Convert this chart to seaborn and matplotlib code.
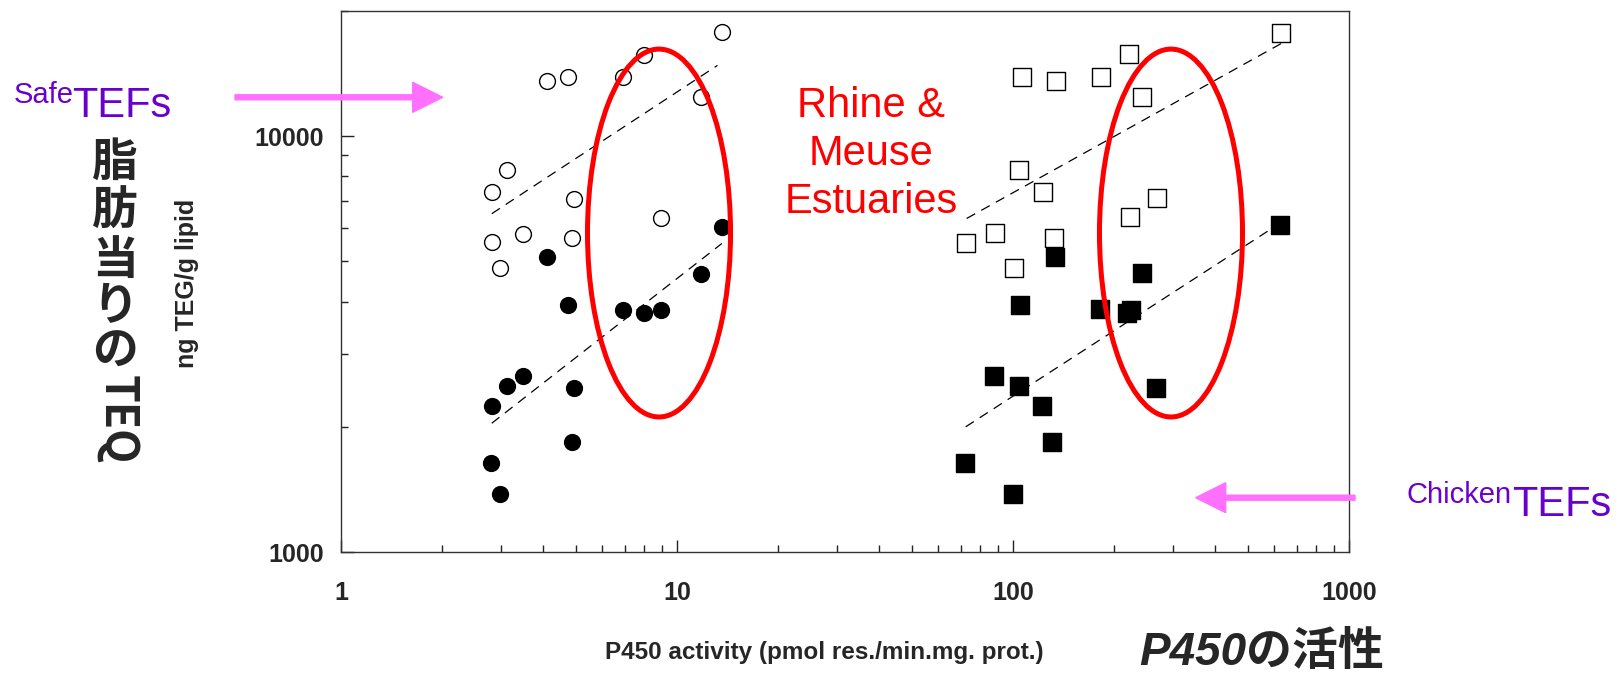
import numpy as np
import pandas as pd
import matplotlib
matplotlib.use("Agg")
import matplotlib.pyplot as plt
import seaborn as sns
from matplotlib.patches import Ellipse, FancyArrow
from matplotlib.ticker import FixedLocator, FixedFormatter, NullFormatter
from matplotlib import font_manager

# ---------------- data ----------------
circ_open_x = [13.6, 8.0, 6.92, 4.74, 4.09, 11.8, 3.11, 2.81, 4.93, 8.94, 2.81, 3.48, 4.87, 2.97]
circ_open_y = [17800, 15700, 13900, 13900, 13600, 12400, 8290, 7360, 7070, 6350, 5570, 5830, 5690, 4810]
circ_fill_x = [13.6, 11.8, 4.09, 4.74, 6.92, 7.99, 8.94, 3.48, 3.11, 2.81, 4.93, 4.87, 2.80, 2.97]
circ_fill_y = [6060, 4670, 5130, 3920, 3820, 3750, 3810, 2650, 2510, 2240, 2480, 1840, 1640, 1380]

sq_open_x = [628, 221, 106, 134, 183, 242, 104, 123, 268, 223, 72.5, 88.4, 132, 101]
sq_open_y = [17700, 15800, 13900, 13600, 13900, 12400, 8290, 7330, 7100, 6400, 5550, 5860, 5690, 4830]
sq_fill_x = [625, 242, 133, 105, 181, 219, 224, 266, 87.8, 104, 71.9, 122, 131, 100]
sq_fill_y = [6110, 4690, 5130, 3920, 3840, 3750, 3810, 2480, 2650, 2510, 1640, 2240, 1840, 1380]

# regression-line end points
fit_circ_open_x = [2.81, 13.2]
fit_circ_open_y = [6510, 14800]
fit_circ_fill_x = [2.81, 13.6]
fit_circ_fill_y = [2040, 5520]
fit_sq_open_x = [72.8, 628]
fit_sq_open_y = [6340, 16700]
fit_sq_fill_x = [72.3, 575]
fit_sq_fill_y = [2000, 5920]

x_ticks = [1, 10, 100, 1000]
x_tick_labels = ["1", "10", "100", "1000"]
y_ticks = [1000, 10000]
y_tick_labels = ["1000", "10000"]

# ---------------- style ----------------
sns.set_style("white")
plt.rcParams["font.family"] = ["Liberation Sans", "Noto Sans CJK JP", "DejaVu Sans"]
plt.rcParams["lines.scale_dashes"] = False

installed = {f.name for f in font_manager.fontManager.ttflist}
narrow = "Liberation Sans Narrow" if "Liberation Sans Narrow" in installed else "Noto Sans CJK JP"

W, H = 1620, 674
fig = plt.figure(figsize=(W / 100, H / 100), dpi=100)
ax = fig.add_axes([341 / W, 1 - 552 / H, 1008 / W, 541 / H])

ax.set_xscale("log")
ax.set_yscale("log")

mk_open = dict(color="white", edgecolor="black", linewidth=1.0, zorder=3, legend=False)
mk_fill = dict(color="black", edgecolor="black", linewidth=1.0, zorder=3, legend=False)

sns.scatterplot(x=circ_open_x, y=circ_open_y, marker="o", s=130, ax=ax, **mk_open)
sns.scatterplot(x=circ_fill_x, y=circ_fill_y, marker="o", s=130, ax=ax, **mk_fill)
sns.scatterplot(x=sq_open_x, y=sq_open_y, marker="s", s=150, ax=ax, **mk_open)
sns.scatterplot(x=sq_fill_x, y=sq_fill_y, marker="s", s=150, ax=ax, **mk_fill)

for fx, fy in [(fit_circ_open_x, fit_circ_open_y), (fit_circ_fill_x, fit_circ_fill_y),
               (fit_sq_open_x, fit_sq_open_y), (fit_sq_fill_x, fit_sq_fill_y)]:
    sns.lineplot(x=fx, y=fy, color="black", linewidth=0.9, linestyle=(0, (7, 5)),
                 ax=ax, zorder=2, legend=False)

ax.set_xlim(1, 1000)
ax.set_ylim(1000, 20000)

ax.xaxis.set_major_locator(FixedLocator(x_ticks))
ax.xaxis.set_major_formatter(FixedFormatter(x_tick_labels))
ax.yaxis.set_major_locator(FixedLocator(y_ticks))
ax.yaxis.set_major_formatter(FixedFormatter(y_tick_labels))
ax.xaxis.set_minor_formatter(NullFormatter())
ax.yaxis.set_minor_formatter(NullFormatter())
ax.tick_params(which="both", direction="in", color="#222222", width=1.0,
               bottom=True, left=True, top=False, right=False)
ax.tick_params(which="major", length=9)
ax.tick_params(which="minor", length=5)
ax.tick_params(axis="x", which="major", pad=21, labelsize=18)
ax.tick_params(axis="y", which="major", pad=12, labelsize=18)
for lab in ax.get_xticklabels() + ax.get_yticklabels():
    lab.set_fontweight("bold")
for sp in ax.spines.values():
    sp.set_color("#333333")
    sp.set_linewidth(1.0)
    sp.set_visible(True)
ax.set_xlabel("")
ax.set_ylabel("")

# ---------------- annotations ----------------
for cx in (0.3155, 0.8234):
    ax.add_patch(Ellipse((cx, 0.5896), 0.1419, 0.680, transform=ax.transAxes,
                         fill=False, edgecolor="#ff0000", linewidth=3.6, zorder=4,
                         clip_on=False))

fig.text(871 / W, 1 - 154 / H, "Rhine &\nMeuse\nEstuaries", color="#ff0000",
         fontsize=30, ha="center", va="center", linespacing=1.26)

purple = "#6a00cc"
fig.text(14 / W, 1 - 103 / H, "Safe", color=purple, fontsize=21, va="baseline")
fig.text(72 / W, 1 - 116.7 / H, "TEFs", color=purple, fontsize=30, va="baseline")
fig.text(1407 / W, 1 - 503 / H, "Chicken", color=purple, fontsize=21, va="baseline")
fig.text(1512 / W, 1 - 516 / H, "TEFs", color=purple, fontsize=30, va="baseline")

pink = "#ff70ff"
tr = fig.dpi_scale_trans
fig.patches.append(FancyArrow(2.35, (H - 97.3) / 100, 4.427 - 2.35, 0, width=0.05,
                              head_width=0.30, head_length=0.30, length_includes_head=True,
                              color=pink, transform=tr, figure=fig, zorder=5))
fig.patches.append(FancyArrow(13.55, (H - 497.7) / 100, 11.957 - 13.55, 0, width=0.05,
                              head_width=0.30, head_length=0.30, length_includes_head=True,
                              color=pink, transform=tr, figure=fig, zorder=5))

# vertical Japanese y-label
jp_font = ["Noto Sans CJK JP", "DejaVu Sans"]
for ch, yc in zip(["脂", "肪", "当", "り", "の"], [163, 212, 261, 307, 352]):
    fig.text(115 / W, 1 - yc / H, ch, family=jp_font, fontsize=33, ha="center",
             va="center", weight="bold")
fig.text(117 / W, 1 - 420 / H, "TEQ", family=[narrow, "Noto Sans CJK JP"], fontsize=32,
         weight="bold", rotation=-90, ha="center", va="center")

fig.text(187 / W, 1 - 283 / H, "ng TEG/g lipid", fontsize=18, weight="bold",
         rotation=90, ha="center", va="center")

fig.text(824 / W, 1 - 653 / H, "P450 activity (pmol res./min.mg. prot.)", fontsize=17.5,
         weight="bold", ha="center", va="center")
fig.text(1262 / W, 1 - 653 / H, "P450の活性", family=["Liberation Sans", "Noto Sans CJK JP"],
         fontsize=33, weight="bold", style="italic", ha="center", va="center")

fig.savefig("out.png", dpi=100)
